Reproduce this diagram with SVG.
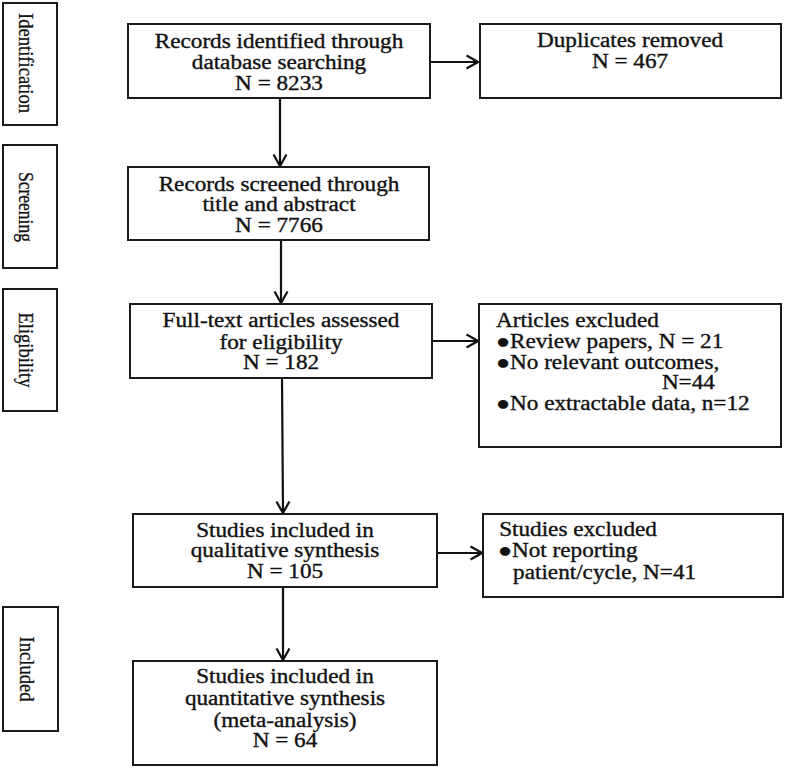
<svg xmlns="http://www.w3.org/2000/svg" width="787" height="768" viewBox="0 0 787 768">
<style>
  .box { fill: #ffffff; stroke: #1a1a1a; stroke-width: 2; }
  .t { font-family: "Liberation Serif", "Times New Roman", serif; font-size: 20px; fill: #111111; stroke: #111111; stroke-width: 0.35; }
  .c { text-anchor: middle; }
  .side { font-family: "Liberation Serif", "Times New Roman", serif; font-size: 21px; fill: #111111; stroke: #111111; stroke-width: 0.3; text-anchor: middle; }
  .con { stroke: #111111; stroke-width: 2.2; fill: none; marker-end: url(#arr); }
</style>
<defs>
  <marker id="arr" viewBox="0 0 14 16" refX="12.5" refY="8" markerWidth="14" markerHeight="16" markerUnits="userSpaceOnUse" orient="auto">
    <path d="M1,1.5 L12.5,8 L1,14.5" fill="none" stroke="#111111" stroke-width="2.2"/>
  </marker>
</defs>
<rect width="787" height="768" fill="#ffffff"/>

<g id="stage-identification">
  <rect class="box" x="3" y="3" width="54" height="122"/>
  <text class="side" transform="translate(19 63) rotate(90)" textLength="100" lengthAdjust="spacingAndGlyphs">Identification</text>
</g>
<g id="stage-screening">
  <rect class="box" x="3" y="145" width="54" height="123"/>
  <text class="side" transform="translate(19 207) rotate(90)" textLength="70" lengthAdjust="spacingAndGlyphs">Screening</text>
</g>
<g id="stage-eligibility">
  <rect class="box" x="3" y="289" width="54" height="122"/>
  <text class="side" transform="translate(19 350) rotate(90)" textLength="75" lengthAdjust="spacingAndGlyphs">Eligibility</text>
</g>
<g id="stage-included">
  <rect class="box" x="3" y="607" width="55" height="124"/>
  <text class="side" transform="translate(20 669) rotate(90)" textLength="65" lengthAdjust="spacingAndGlyphs">Included</text>
</g>

<g id="connectors">
  <line class="con" x1="280" y1="98" x2="280" y2="166"/>
  <line class="con" x1="281" y1="240" x2="281" y2="303"/>
  <line class="con" x1="282" y1="378" x2="283" y2="513"/>
  <line class="con" x1="283" y1="587" x2="283" y2="660"/>
  <line class="con" x1="430" y1="62" x2="478" y2="62"/>
  <line class="con" x1="432" y1="341" x2="478" y2="341"/>
  <line class="con" x1="437" y1="553" x2="482" y2="553"/>
</g>

<g id="records-identified">
  <rect class="box" x="128" y="24" width="302" height="74"/>
  <g transform="translate(279 0) scale(1.16 1)">
    <text class="t c" x="0" y="48">Records identified through</text>
    <text class="t c" x="0" y="69">database searching</text>
    <text class="t c" x="0" y="90">N = 8233</text>
  </g>
</g>
<g id="duplicates-removed">
  <rect class="box" x="480" y="24" width="301" height="74"/>
  <g transform="translate(630 0) scale(1.16 1)">
    <text class="t c" x="0" y="47">Duplicates removed</text>
    <text class="t c" x="0" y="68">N = 467</text>
  </g>
</g>
<g id="records-screened">
  <rect class="box" x="128" y="167" width="301" height="73"/>
  <g transform="translate(279 0) scale(1.16 1)">
    <text class="t c" x="0" y="191">Records screened through</text>
    <text class="t c" x="0" y="211">title and abstract</text>
    <text class="t c" x="0" y="232">N = 7766</text>
  </g>
</g>
<g id="full-text-assessed">
  <rect class="box" x="130" y="304" width="302" height="74"/>
  <g transform="translate(281 0) scale(1.16 1)">
    <text class="t c" x="0" y="327">Full-text articles assessed</text>
    <text class="t c" x="0" y="349">for eligibility</text>
    <text class="t c" x="0" y="369">N = 182</text>
  </g>
</g>
<g id="articles-excluded">
  <rect class="box" x="479" y="304" width="302" height="143"/>
  <g transform="translate(496 0) scale(1.16 1)">
    <text class="t" x="0" y="327">Articles excluded</text>
    <text class="t" x="0" y="348">●Review papers, N = 21</text>
    <text class="t" x="0" y="369">●No relevant outcomes,</text>
    <text class="t" x="143" y="389">N=44</text>
    <text class="t" x="0" y="410">●No extractable data, n=12</text>
  </g>
</g>
<g id="qualitative-synthesis">
  <rect class="box" x="133" y="514" width="304" height="73"/>
  <g transform="translate(285 0) scale(1.16 1)">
    <text class="t c" x="0" y="537">Studies included in</text>
    <text class="t c" x="0" y="557">qualitative synthesis</text>
    <text class="t c" x="0" y="578">N = 105</text>
  </g>
</g>
<g id="studies-excluded">
  <rect class="box" x="483" y="514" width="300" height="83"/>
  <g transform="translate(498 0) scale(1.16 1)">
    <text class="t" x="1" y="536">Studies excluded</text>
    <text class="t" x="0" y="557">●Not reporting</text>
    <text class="t" x="13" y="579">patient/cycle, N=41</text>
  </g>
</g>
<g id="quantitative-synthesis">
  <rect class="box" x="133" y="661" width="304" height="104"/>
  <g transform="translate(285 0) scale(1.16 1)">
    <text class="t c" x="0" y="683">Studies included in</text>
    <text class="t c" x="0" y="705">quantitative synthesis</text>
    <text class="t c" x="0" y="727">(meta-analysis)</text>
    <text class="t c" x="0" y="747">N = 64</text>
  </g>
</g>
</svg>
